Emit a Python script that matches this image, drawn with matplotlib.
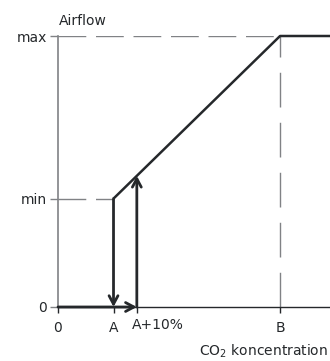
import matplotlib
matplotlib.use("Agg")
import matplotlib.pyplot as plt

# ─────────────────────────────────────────────
#  Data (arbitrary units)
# ─────────────────────────────────────────────
x_ticks = [0.0, 1.0, 1.42, 4.0]          # 0, A, A+10%, B
x_labels = ["0", "A", "", "B"]
y_ticks = [0.0, 0.4, 1.0]                # 0, min, max
y_labels = ["0", "min", "max"]
x_end = 4.9

# control curve: min at A, linear ramp to max at B, then flat
curve_x = [1.0, 4.0, x_end]
curve_y = [0.4, 1.0, 1.0]

# hysteresis: switch-on point on the ramp at A+10%
a_x, a10_x, b_x = x_ticks[1], x_ticks[2], x_ticks[3]
y_min, y_max = y_ticks[1], y_ticks[2]
y_a10 = y_min + (a10_x - a_x) * (y_max - y_min) / (b_x - a_x)

DARK = "#25282b"
GREY = "#808285"

plt.rcParams["font.family"] = ["DejaVu Sans"]

fig = plt.figure(figsize=(3.30, 3.61), dpi=100)
ax = fig.add_axes([58 / 330, 54 / 361, 272 / 330, 271 / 361])
ax.set_xlim(0, x_end)
ax.set_ylim(0, 1.0)

for s in ("top", "right"):
    ax.spines[s].set_visible(False)
ax.spines["left"].set_color(GREY)
ax.spines["left"].set_linewidth(1.2)
ax.spines["bottom"].set_color(DARK)
ax.spines["bottom"].set_linewidth(1.0)

ax.set_xticks(x_ticks)
ax.set_xticklabels(x_labels)
ax.set_yticks(y_ticks)
ax.set_yticklabels(y_labels)
ax.tick_params(axis="y", length=6, width=1, color=GREY, pad=2,
               labelsize=10, labelcolor=DARK)
ax.tick_params(axis="x", length=4, width=1, color=DARK, pad=6,
               labelsize=10, labelcolor=DARK)
ax.text(a10_x - 0.09, -0.04, "A+10%", ha="left", va="top",
        fontsize=10, color=DARK)

# dashed guides
ax.plot([0, b_x], [y_max, y_max], color=GREY, lw=1.0, dashes=(20, 7))
ax.plot([0, a_x], [y_min, y_min], color=GREY, lw=1.0, dashes=(20, 7))
ax.plot([b_x, b_x], [0, y_max], color=GREY, lw=1.0, dashes=(25, 11))

# control curve
ax.plot(curve_x, curve_y, color=DARK, lw=1.8, solid_capstyle="butt",
        clip_on=False)

# arrows
arrow = dict(arrowstyle="->,head_length=0.6,head_width=0.32",
             color=DARK, lw=2.0, shrinkA=0, shrinkB=0)
ax.annotate("", xy=(a_x, 0), xytext=(a_x, y_min), arrowprops=arrow)
ax.annotate("", xy=(a10_x, y_a10), xytext=(a10_x, 0), arrowprops=arrow)
ax.annotate("", xy=(a10_x, 0), xytext=(0, 0), arrowprops=arrow)

fig.text(59 / 330, 1 - 21 / 361, "Airflow", ha="left", va="center",
         fontsize=10, color=DARK)
fig.text(328 / 330, 10 / 361, r"CO$_2$ koncentration", ha="right",
         va="center", fontsize=10, color=DARK)

fig.savefig("out.png", dpi=100)
